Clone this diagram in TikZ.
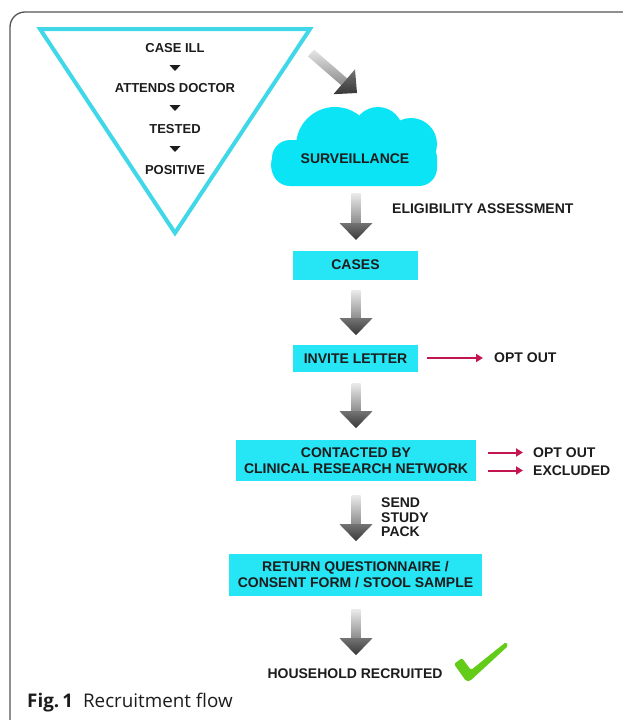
\documentclass[tikz,border=0pt]{standalone}
\usepackage{fontspec}
\setmainfont{Liberation Sans}
\newfontfamily\capfont{Open Sans}
\usetikzlibrary{calc,arrows.meta}
\definecolor{boxcyan}{RGB}{38,229,245}
\definecolor{cloudcyan}{RGB}{10,228,245}
\definecolor{tricyan}{RGB}{64,216,232}
\definecolor{optred}{RGB}{196,22,78}
\definecolor{checkgreen}{RGB}{98,204,24}
\definecolor{txt}{RGB}{28,28,28}
\definecolor{framegray}{RGB}{85,85,85}
\newcommand\fatdown[2]{%
  \shade[top color=black!8, bottom color=black!45]
    ($(#1)+(-4.5,0)$) rectangle ($(#1)+(4.5,{#2-17})$);
  \shade[top color=black!55, bottom color=black!78]
    ($(#1)+(-16.5,{#2-17})$) -- ($(#1)+(16.5,{#2-17})$) -- ($(#1)+(0,#2)$) -- cycle;}
\tikzset{
  lbl/.style={font=\bfseries\fontsize{14}{16}\selectfont, text=txt, inner sep=0pt, align=center},
  trilbl/.style={font=\bfseries\fontsize{13}{15}\selectfont, text=txt, inner sep=0pt},
  sidelbl/.style={lbl, anchor=west, align=left},
  cbox/.style n args={2}{lbl, fill=boxcyan, minimum width=#1, minimum height=#2},
  redarrow/.style={draw=optred, line width=2pt, -{Triangle[length=7pt,width=8pt]}},
  marker/.style={fill=txt},
}
\begin{document}
\begin{tikzpicture}[x=1pt,y=-1pt]
\useasboundingbox (0,0) rectangle (623,720);
% frame
\draw[framegray, line width=1.3pt, rounded corners=15pt] (10,760) -- (10,12) -- (660,12);
% inverted triangle
\coordinate (tA) at (40,29);
\coordinate (tB) at (310,29);
\coordinate (tC) at (175,233);
\draw[tricyan, line width=4pt, line join=miter] (tA) -- (tB) -- (tC) -- cycle;
\node[trilbl] (ill) at (175,48) {CASE ILL};
\node[trilbl] (doc) at (175,88) {ATTENDS DOCTOR};
\node[trilbl] (tested) at (175,129) {TESTED};
\node[trilbl] (pos) at (175,170) {POSITIVE};
\foreach \y in {68,108,149}{
  \fill[marker] (169.5,{\y-3}) -- (180.5,{\y-3}) -- (175,{\y+3}) -- cycle;
}
% diagonal arrow
\shade[top color=black!10, bottom color=black!45]
  (308.0,56.4) -- (314.0,49.6) -- (347.2,78.4) -- (341.2,85.2) -- cycle;
\shade[top color=black!55, bottom color=black!78]
  (333.4,94.2) -- (355.0,69.4) -- (357,93) -- cycle;
% cloud
\fill[cloudcyan] (335,146) circle[radius=39];
\fill[cloudcyan] (378,132) circle[radius=25];
\fill[cloudcyan] (411,144) circle[radius=26];
\fill[cloudcyan] (292,165) circle[radius=21];
\fill[cloudcyan, rounded corners=18pt] (272,140) rectangle (437,186);
\node[lbl] (surv) at (355,159) {SURVEILLANCE};
% boxes
\node[cbox={125pt}{29pt}] (cases) at (355.5,265) {CASES};
\node[cbox={125pt}{27pt}] (invite) at (355.5,358.5) {INVITE LETTER};
\node[cbox={240pt}{41pt}] (contacted) at (356,460.5) {CONTACTED BY\\CLINICAL RESEARCH NETWORK};
\node[cbox={253pt}{42pt}] (ret) at (355.5,575) {RETURN QUESTIONNAIRE /\\CONSENT FORM / STOOL SAMPLE};
\node[lbl] (house) at (355,674) {HOUSEHOLD RECRUITED};
% side labels
\node[sidelbl] (elig) at (392,209) {ELIGIBILITY ASSESSMENT};
\node[sidelbl] (opt1) at (494,358) {OPT OUT};
\node[sidelbl] (opt2) at (533,452.5) {OPT OUT};
\node[sidelbl] (excl) at (533,470.5) {EXCLUDED};
\node[sidelbl, font=\bfseries\fontsize{14}{14.5}\selectfont] (send) at (381,517.5) {SEND\\STUDY\\PACK};
% grey down arrows
\coordinate (a1) at ($(surv.center |- 0,186)+(1,7)$);
\coordinate (a2) at ($(cases.south)+(0.5,10.5)$);
\coordinate (a3) at ($(invite.south)+(0.5,11)$);
\coordinate (a4) at ($(contacted.south)+(0,14)$);
\coordinate (a5) at ($(ret.south)+(0.5,13)$);
\fatdown{a1}{47}
\fatdown{a2}{45}
\fatdown{a3}{45}
\fatdown{a4}{46}
\fatdown{a5}{46}
% red arrows
\draw[redarrow] ($(opt1.west -| invite.east)+(9,0)$) -- ($(opt1.west)+(-11,0)$);
\draw[redarrow] ($(opt2.west -| contacted.east)+(12,0)$) -- ($(opt2.west)+(-10,0)$);
\draw[redarrow] ($(excl.west -| contacted.east)+(12,0)$) -- ($(excl.west)+(-10,0)$);
% check mark
\fill[checkgreen, rounded corners=1.5pt] (454,664) -- (462,658) -- (471,670) -- (506,642) -- (508,646) -- (470,681) -- (466,681) -- cycle;
% caption
\node[anchor=base west, inner sep=0pt, text=txt, font=\capfont\fontsize{18.8}{22}\selectfont] (cap) at (27,707.5) {\textbf{Fig.\,1}\hspace{10pt}Recruitment flow};
\end{tikzpicture}
\end{document}
